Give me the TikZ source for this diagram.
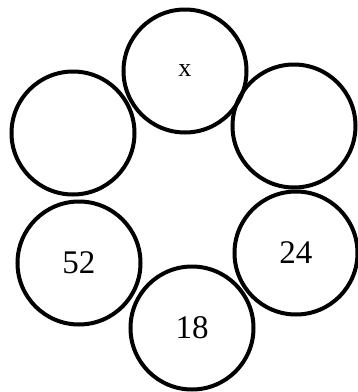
\documentclass[tikz,border=0pt]{standalone}
\usepackage{fontspec}
\setmainfont{Liberation Serif}
\usetikzlibrary{positioning}

\begin{document}
\begin{tikzpicture}[x=1pt, y=-1pt,
  ring/.style={draw, circle, line width=4pt, minimum size=123pt, inner sep=0pt,
    font=\fontsize{33}{33}\selectfont}]
\useasboundingbox (0,0) rectangle (358,392);

% sei cerchi in anello
\node[ring] (top)   at (185, 71)  {\fontsize{26}{26}\selectfont x};
\node[ring] (upl)   at (73, 133)  {};
\node[ring] (upr)   at (294, 126) {};
\node[ring] (lowl)  at (79, 263)  {52};
\node[ring] (lowr)  at (296, 253) {24};
\node[ring] (bot)   at (192, 328) {18};

\end{tikzpicture}
\end{document}
